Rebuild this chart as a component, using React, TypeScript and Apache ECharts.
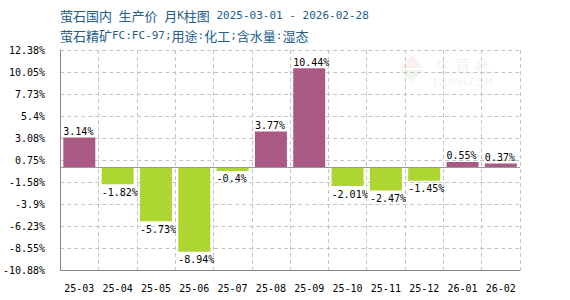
import React, { useEffect, useRef } from 'react';
import * as echarts from 'echarts';

const categories = ['25-03', '25-04', '25-05', '25-06', '25-07', '25-08', '25-09', '25-10', '25-11', '25-12', '26-01', '26-02'];
const values = [3.14, -1.82, -5.73, -8.94, -0.4, 3.77, 10.44, -2.01, -2.47, -1.45, 0.55, 0.37];
const yTickLabels = ['-10.88%', '-8.55%', '-6.23%', '-3.9%', '-1.58%', '0.75%', '3.08%', '5.4%', '7.73%', '10.05%', '12.38%'];
const yMin = -10.88;
const yMax = 12.38;
const yStep = 2.326;

const titleText = '{c|萤石国内} {c|生产价} {c|月}{a|K}{c|柱图} {a|2025-03-01 - 2026-02-28}';
const subtitleText = '{c|萤石精矿}{a|FC:FC-97;}{c|用途}{a|:}{c|化工}{a|;}{c|含水量}{a|:}{c|湿态}';

const POS = '#aa5884';
const NEG = '#add633';
const TITLE_COLOR = '#215d8d';
const MONO = '"DejaVu Sans Mono", "Liberation Mono", monospace';
const CJK = '"Noto Sans CJK SC", sans-serif';

const richTitle = {
  c: { fontSize: 13, fontFamily: CJK, color: TITLE_COLOR, lineHeight: 16 },
  a: { fontSize: 11, fontFamily: MONO, color: TITLE_COLOR, lineHeight: 16 },
};

export default function App() {
  const ref = useRef<HTMLDivElement>(null);
  useEffect(() => {
    if (!ref.current) return;
    const chart = echarts.init(ref.current, undefined, { renderer: 'svg' });
    chart.setOption({
      animation: false,
      backgroundColor: '#ffffff',
      title: [
        {
          text: titleText,
          left: 60,
          top: 7,
          padding: 0,
          textStyle: { fontSize: 11, fontFamily: MONO, color: TITLE_COLOR, fontWeight: 'normal', lineHeight: 16, rich: richTitle },
        },
        {
          text: subtitleText,
          left: 60,
          top: 27,
          padding: 0,
          textStyle: { fontSize: 11, fontFamily: MONO, color: TITLE_COLOR, fontWeight: 'normal', lineHeight: 16, rich: richTitle },
        },
      ],
      grid: { left: 60, top: 50, width: 460, height: 220, containLabel: false },
      xAxis: {
        type: 'category',
        data: categories,
        boundaryGap: true,
        position: 'bottom',
        axisLine: { show: true, onZero: false, lineStyle: { color: '#888888', width: 1 } },
        axisTick: { show: false },
        axisLabel: { color: '#000000', fontFamily: MONO, fontSize: 10, margin: 13, interval: 0 },
        splitLine: { show: true, interval: 0, lineStyle: { color: '#c4c4c4', type: [4, 3], width: 1 } },
      },
      yAxis: {
        type: 'value',
        min: yMin,
        max: yMax,
        interval: yStep,
        axisLine: { show: true, lineStyle: { color: '#888888', width: 1 } },
        axisTick: { show: false },
        axisLabel: {
          color: '#000000',
          fontFamily: MONO,
          fontSize: 10,
          margin: 15,
          formatter: (v: number) => {
            const i = Math.round((v - yMin) / yStep);
            return yTickLabels[i] ?? '';
          },
        },
        splitLine: { show: true, lineStyle: { color: '#c4c4c4', type: [4, 3], width: 1 } },
      },
      graphic: [
        {
          type: 'polygon',
          silent: true,
          z: 0,
          shape: { points: [[400, 68], [411.5, 55], [423, 68]] },
          style: { fill: '#fbeeee' },
        },
        {
          type: 'polygon',
          silent: true,
          z: 0,
          shape: { points: [[400, 70], [411.5, 82], [423, 70]] },
          style: { fill: '#eef6ee' },
        },
        {
          type: 'text',
          silent: true,
          z: 0,
          x: 435,
          y: 57,
          style: { text: '生 意 社', fontSize: 16, fontFamily: CJK, fill: '#f3f3f3' },
        },
        {
          type: 'text',
          silent: true,
          z: 0,
          x: 432,
          y: 77,
          style: { text: '100PPI.COM', fontSize: 10, fontFamily: '"DejaVu Sans", sans-serif', fill: '#f3f3f3' },
        },
      ],
      series: [
        {
          type: 'bar',
          barWidth: 32,
          data: values.map((v) => ({
            value: v,
            itemStyle: { color: v >= 0 ? POS : NEG },
            label: {
              show: true,
              position: v >= 0 ? [0, 0] : [0, '100%'],
              offset: v >= 0 ? [0, -1] : [0, 3],
              align: 'left',
              verticalAlign: v >= 0 ? 'bottom' : 'top',
              color: '#000000',
              fontFamily: MONO,
              fontSize: 10,
              formatter: (p: any) => `${p.value}%`,
            },
          })),
          markLine: {
            silent: true,
            symbol: 'none',
            label: { show: false },
            lineStyle: { color: '#999999', type: 'solid', width: 1 },
            data: [{ yAxis: 0 }],
          },
        },
      ],
    });
    return () => chart.dispose();
  }, []);
  return <div ref={ref} style={{ position: 'absolute', left: 0, top: 0, width: 570, height: 300 }} />;
}
